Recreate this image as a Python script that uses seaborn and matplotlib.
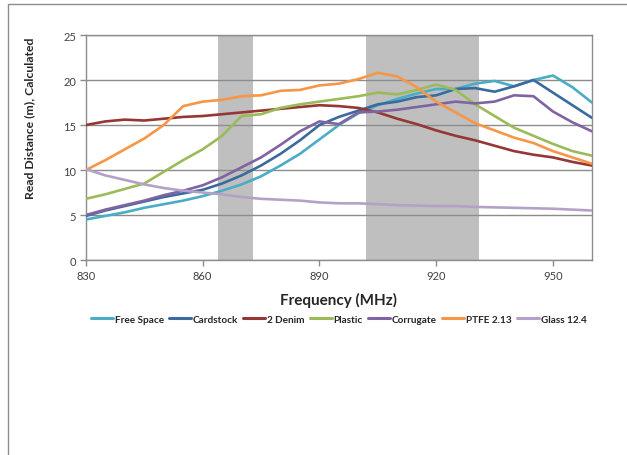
import numpy as np
import pandas as pd
import matplotlib
matplotlib.use('Agg')
import matplotlib.pyplot as plt
import seaborn as sns
from matplotlib.patches import Rectangle

# Frequency samples (MHz) and read distance (m)
freq = [830, 835, 840, 845, 850, 855, 860, 865, 870, 875, 880, 885, 890, 895,
        900, 905, 910, 915, 920, 925, 930, 935, 940, 945, 950, 955, 960]

free_space = [4.5, 4.9, 5.3, 5.8, 6.2, 6.6, 7.1, 7.7, 8.4, 9.3, 10.5, 11.8, 13.4, 15.0,
              16.3, 17.2, 17.9, 18.5, 19.0, 19.0, 19.6, 19.9, 19.3, 20.0, 20.5, 19.2, 17.5]
cardstock = [4.9, 5.5, 6.0, 6.5, 7.0, 7.4, 7.8, 8.5, 9.4, 10.5, 11.8, 13.3, 15.0, 15.9,
             16.6, 17.3, 17.6, 18.1, 18.3, 19.0, 19.1, 18.7, 19.3, 20.0, 18.6, 17.2, 15.8]
denim = [15.0, 15.4, 15.6, 15.5, 15.7, 15.9, 16.0, 16.2, 16.4, 16.6, 16.8, 17.0, 17.2, 17.1,
         16.9, 16.4, 15.7, 15.1, 14.4, 13.8, 13.3, 12.7, 12.1, 11.7, 11.4, 10.9, 10.5]
plastic = [6.8, 7.3, 7.9, 8.5, 9.8, 11.1, 12.3, 13.8, 16.0, 16.2, 16.9, 17.3, 17.6, 17.9,
           18.2, 18.6, 18.4, 18.9, 19.5, 18.9, 17.3, 16.0, 14.7, 13.8, 12.9, 12.1, 11.6]
corrugate = [5.0, 5.6, 6.1, 6.6, 7.2, 7.7, 8.3, 9.2, 10.3, 11.4, 12.8, 14.3, 15.4, 15.1,
             16.4, 16.5, 16.7, 17.0, 17.3, 17.6, 17.4, 17.6, 18.3, 18.2, 16.5, 15.3, 14.3]
ptfe = [10.0, 11.1, 12.3, 13.5, 15.0, 17.1, 17.6, 17.8, 18.2, 18.3, 18.8, 18.9, 19.4, 19.6,
        20.1, 20.8, 20.4, 19.2, 17.6, 16.4, 15.2, 14.4, 13.6, 13.0, 12.1, 11.4, 10.7]
glass = [10.1, 9.4, 8.9, 8.4, 8.0, 7.7, 7.5, 7.3, 7.0, 6.8, 6.7, 6.6, 6.4, 6.3,
         6.3, 6.2, 6.1, 6.05, 6.0, 6.0, 5.9, 5.85, 5.8, 5.75, 5.7, 5.6, 5.5]

series_names = ['Free Space', 'Cardstock', '2 Denim', 'Plastic', 'Corrugate', 'PTFE 2.13', 'Glass 12.4']
series_vals = [free_space, cardstock, denim, plastic, corrugate, ptfe, glass]
colors = ['#4BACC6', '#3A6B9E', '#953735', '#9BBB59', '#8064A2', '#F79646', '#B3A2C7']

# shaded frequency bands (MHz)
bands = [(864, 873), (902, 931)]

rows = []
for name, vals in zip(series_names, series_vals):
    for f, v in zip(freq, vals):
        rows.append({'freq': f, 'dist': v, 'material': name})
df = pd.DataFrame(rows)

sns.set_theme(style='white')
plt.rcParams['font.family'] = ['Lato', 'DejaVu Sans']

fig = plt.figure(figsize=(6.27, 4.56), dpi=100)
ax = fig.add_axes([0.137, 0.4276, 0.807, 0.4934])

for lo, hi in bands:
    ax.axvspan(lo, hi, color='#BFBFBF', lw=0, zorder=0)

sns.lineplot(data=df, x='freq', y='dist', hue='material', hue_order=series_names,
             palette=colors, linewidth=1.9, ax=ax, legend=False, zorder=3)

ax.set_xlim(830, 960)
ax.set_ylim(0, 25)
ax.set_xticks([830, 860, 890, 920, 950])
ax.set_yticks([0, 5, 10, 15, 20, 25])
ax.yaxis.grid(True, color='#8C8C8C', lw=1)
ax.set_axisbelow(False)
for gl in ax.get_ygridlines():
    gl.set_zorder(1)
for sp in ax.spines.values():
    sp.set_color('#8C8C8C')
    sp.set_linewidth(1)
ax.tick_params(axis='both', which='major', length=4, width=1, color='#8C8C8C',
               labelsize=8, labelcolor='#404040', direction='out', pad=3)
ax.tick_params(bottom=True, left=True)

ax.set_xlabel('Frequency (MHz)', fontsize=11, fontweight='bold', labelpad=8)
ax.set_ylabel('Read Distance (m), Calculated', fontsize=8.8, fontweight='bold')
ax.yaxis.set_label_coords(-0.10, 0.636)

handles = [plt.Line2D([], [], color=c, lw=2.2) for c in colors]
fig.legend(handles, series_names, loc='center', bbox_to_anchor=(0.54, 0.298), ncol=7,
           frameon=False, prop={'size': 7.2, 'weight': 'bold'}, handlelength=2.2,
           handletextpad=0.2, columnspacing=0.5)

# outer chart frame
fig.patches.append(Rectangle((8 / 627, -0.05), 1.2, 1 - 5 / 456 + 0.05,
                             transform=fig.transFigure, fill=False,
                             edgecolor='#8C8C8C', lw=1))

fig.savefig('out.png', dpi=100)
